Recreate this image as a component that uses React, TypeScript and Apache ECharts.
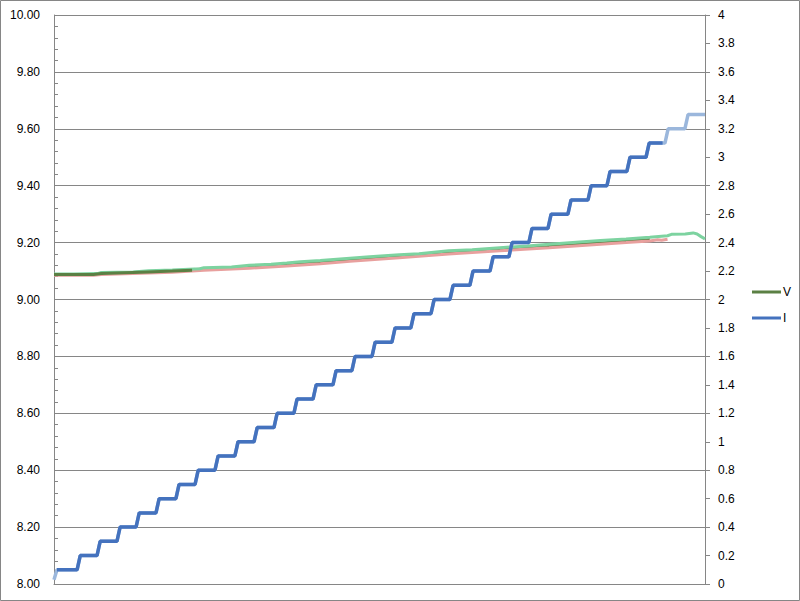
import React, { useEffect, useRef } from "react";
import * as echarts from "echarts";

// ---- Data (x in seconds, 0..330) ----
// Current staircase levels (A) and the times at which each rise begins
const iLevels = [
  0.1, 0.2, 0.3, 0.4, 0.5, 0.6, 0.7, 0.8, 0.9, 1.0, 1.1,
  1.2, 1.3, 1.4, 1.5, 1.6, 1.7, 1.8, 1.9, 2.0, 2.1, 2.2,
  2.3, 2.4, 2.5, 2.6, 2.7, 2.8, 2.9, 3.0, 3.1, 3.2, 3.3,
];
const iRiseAt = [
  11.7, 21.8, 31.9, 41.6, 51.7, 61.8, 71.5, 81.6, 91.7, 101.4, 111.5,
  121.6, 131.3, 141.4, 151.0, 161.2, 171.3, 180.9, 191.1, 200.7, 210.8,
  221.0, 230.6, 240.7, 250.4, 260.5, 270.7, 280.3, 290.4, 300.1, 309.7, 319.8,
];
const iStartTime = 1.5;
const iStartValue = 0.03;
const iDarkEndTime = 308.5;
const iEndTime = 330;
const riseDuration = 1.6;

// Voltage traces (V)
const vGreenT = [0, 10, 22, 24, 40, 48, 60, 74, 76, 90, 99, 110, 118, 125, 135, 150, 160, 175, 185, 200, 212, 226, 240, 251, 263, 277, 290, 302, 311, 313, 320, 324, 326, 328, 330];
const vGreenV = [9.090, 9.090, 9.091, 9.095, 9.097, 9.101, 9.104, 9.108, 9.112, 9.114, 9.120, 9.124, 9.128, 9.133, 9.137, 9.145, 9.150, 9.157, 9.161, 9.171, 9.175, 9.182, 9.188, 9.194, 9.200, 9.207, 9.213, 9.219, 9.224, 9.229, 9.230, 9.234, 9.230, 9.221, 9.213];

const vRedT = [0, 20, 24, 48, 60, 76, 99, 118, 135, 150, 175, 200, 226, 251, 277, 290, 302, 306, 308, 311];
const vRedV = [9.085, 9.085, 9.088, 9.093, 9.096, 9.103, 9.110, 9.118, 9.126, 9.134, 9.147, 9.160, 9.171, 9.182, 9.194, 9.200, 9.206, 9.210, 9.208, 9.212];

const vDarkT = [0, 20, 24, 48, 60, 76, 99, 118, 135, 150, 175, 200, 226, 251, 277, 290, 302];
const vDarkV = [9.088, 9.088, 9.091, 9.097, 9.100, 9.107, 9.115, 9.123, 9.131, 9.139, 9.152, 9.165, 9.176, 9.187, 9.199, 9.205, 9.211];

const vTopT = [0, 20, 24, 48, 60, 70];
const vTopV = [9.088, 9.088, 9.091, 9.097, 9.100, 9.103];

const leftTicks = { min: 8, max: 10, interval: 0.2 };
const rightTicks = { min: 0, max: 4, interval: 0.2 };

function zip(t: number[], v: number[]) {
  return t.map((x, i) => [x, v[i]]);
}

function staircase(endTime: number, startValue: number | null) {
  const pts: number[][] = [];
  if (startValue !== null) pts.push([0, startValue]);
  pts.push([iStartTime, iLevels[0]]);
  for (let k = 0; k < iRiseAt.length; k++) {
    const t0 = iRiseAt[k];
    if (t0 >= endTime) break;
    pts.push([t0, iLevels[k]]);
    pts.push([t0 + riseDuration, iLevels[k + 1]]);
  }
  const last = pts[pts.length - 1];
  pts.push([endTime, last[1]]);
  return pts;
}

export default function App() {
  const ref = useRef<HTMLDivElement>(null);
  useEffect(() => {
    if (!ref.current) return;
    const chart = echarts.init(ref.current, null, { renderer: "svg" });
    const gray = "#868686";
    const font = "Liberation Sans, Arial, sans-serif";
    chart.setOption({
      animation: false,
      backgroundColor: "#ffffff",
      grid: { left: 54, right: 95, top: 15, bottom: 17 },
      legend: {
        orient: "vertical",
        left: 747,
        top: 280,
        itemWidth: 29,
        itemHeight: 3,
        itemGap: 12,
        icon: "rect",
        data: ["V", "I"],
        textStyle: { fontSize: 12, fontFamily: font, color: "#000", lineHeight: 14, padding: [0, 0, 0, -3] },
      },
      xAxis: {
        type: "value",
        min: 0,
        max: iEndTime,
        axisLine: { show: true, lineStyle: { color: gray, width: 1 } },
        axisTick: { show: false },
        axisLabel: { show: false },
        splitLine: { show: false },
      },
      yAxis: [
        {
          type: "value",
          position: "left",
          min: leftTicks.min,
          max: leftTicks.max,
          interval: leftTicks.interval,
          axisLine: { show: true, lineStyle: { color: gray } },
          axisTick: { show: true, inside: true, length: 4, lineStyle: { color: gray } },
          minorTick: { show: true, splitNumber: 5, length: 4, lineStyle: { color: gray } },
          axisLabel: {
            margin: 14,
            fontSize: 12,
            fontFamily: font,
            color: "#000",
            formatter: (v: number) => v.toFixed(2),
          },
          splitLine: { show: true, lineStyle: { color: gray, width: 1 } },
        },
        {
          type: "value",
          position: "right",
          min: rightTicks.min,
          max: rightTicks.max,
          interval: rightTicks.interval,
          axisLine: { show: true, lineStyle: { color: gray } },
          axisTick: { show: true, inside: false, length: 5, lineStyle: { color: gray } },
          axisLabel: {
            margin: 13,
            fontSize: 12,
            fontFamily: font,
            color: "#000",
            formatter: (v: number) => String(Math.round(v * 10) / 10),
          },
          splitLine: { show: false },
        },
      ],
      graphic: [
        {
          type: "rect",
          shape: { x: 0.5, y: 0.5, width: 799, height: 600 },
          style: { fill: "none", stroke: gray, lineWidth: 1 },
          silent: true,
          z: 100,
        },
      ],
      series: [
        {
          name: "V dark",
          type: "line",
          yAxisIndex: 0,
          showSymbol: false,
          symbol: "none",
          data: zip(vDarkT, vDarkV),
          lineStyle: { color: "#5B8044", width: 3 },
          itemStyle: { color: "#5B8044" },
          z: 1,
        },
        {
          name: "V red",
          type: "line",
          yAxisIndex: 0,
          symbol: "none",
          data: zip(vRedT, vRedV),
          lineStyle: { color: "#E8A09E", width: 3 },
          itemStyle: { color: "#E8A09E" },
          z: 2,
        },
        {
          name: "V green",
          type: "line",
          yAxisIndex: 0,
          symbol: "none",
          data: zip(vGreenT, vGreenV),
          lineStyle: { color: "#7DD3A0", width: 3 },
          itemStyle: { color: "#7DD3A0" },
          z: 3,
        },
        {
          name: "V",
          type: "line",
          yAxisIndex: 0,
          symbol: "none",
          data: zip(vTopT, vTopV),
          lineStyle: { color: "#5B8044", width: 3 },
          itemStyle: { color: "#5B8044" },
          z: 4,
        },
        {
          name: "I light",
          type: "line",
          yAxisIndex: 1,
          symbol: "none",
          data: staircase(iEndTime, iStartValue),
          lineStyle: { color: "#9BB7DC", width: 3.5 },
          itemStyle: { color: "#9BB7DC" },
          z: 5,
        },
        {
          name: "I",
          type: "line",
          yAxisIndex: 1,
          symbol: "none",
          data: staircase(iDarkEndTime, null),
          lineStyle: { color: "#4472BE", width: 3.5 },
          itemStyle: { color: "#4472BE" },
          z: 6,
        },
      ],
    });
    return () => chart.dispose();
  }, []);
  return (
    <div
      ref={ref}
      style={{ position: "fixed", left: 0, top: 0, width: 800, height: 601 }}
    />
  );
}
